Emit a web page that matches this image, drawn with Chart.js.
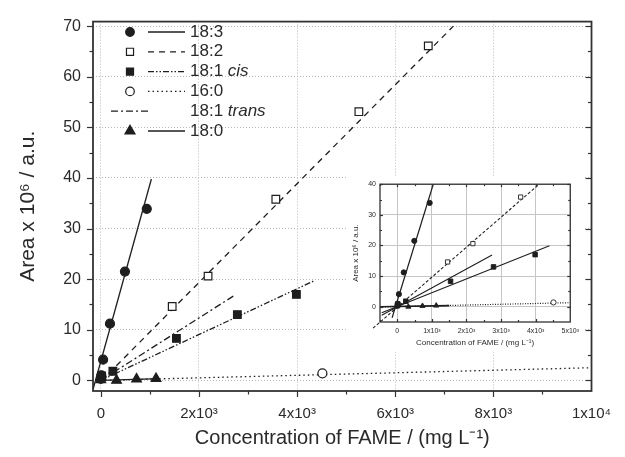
<!DOCTYPE html>
<html lang="en">
<head>
<meta charset="UTF-8">
<title>FAME calibration</title>
<script src="https://cdn.jsdelivr.net/npm/chart.js"></script>
<style>
  html, body { margin: 0; padding: 0; background: #fff; }
  #wrap { position: relative; width: 625px; height: 457px; }
  #main { position: absolute; left: 0; top: 0; }
  #inset { position: absolute; left: 347px; top: 176px; background: #fff; }
</style>
</head>
<body>
<div id="wrap">
  <canvas id="main" width="625" height="457"></canvas>
  <canvas id="inset" width="237" height="176"></canvas>
</div>
<script>
// measured points: concentration (mg/L) and area (x10^6 a.u.)
const x183 = [0, 10, 46, 186, 491, 936];
const y183 = [0.3, 1.0, 4.1, 11.2, 21.5, 33.9];
const x182 = [1454, 2185, 3566, 5259, 6673];
const y182 = [14.6, 20.6, 35.8, 53.1, 66.1];
const x181c = [15, 245, 1540, 2782, 3985];
const y181c = [0.9, 1.8, 8.3, 13.0, 17.0];
const x160 = [4515];
const y160 = [1.4];
const x180 = [0, 320, 728, 1125];
const y180 = [0.1, 0.0, 0.25, 0.35];

// fitted lines in the main plot (end points)
const fit183X = [-160, 1030],  fit183Y = [-1.8, 39.8];
const fit182X = [0, 7185],     fit182Y = [-0.2, 70.0];
const fit181cX = [0, 4330],    fit181cY = [0, 19.6];
const fit181tX = [0, 2723],    fit181tY = [0, 16.8];
const fit160X = [0, 10000],    fit160Y = [0, 2.5];
const fit180X = [0, 1200],     fit180Y = [0, 0.35];

// fitted lines in the inset (they run further into negative x)
const in183X = [-150, 1040],   in183Y = [-3.6, 40];
const in182X = [-700, 4100],   in182Y = [-7.0, 40];
const in181cX = [-450, 4400],  in181cY = [-2.0, 19.9];
const in181tX = [-450, 2740],  in181tY = [-2.8, 16.9];
const in160X = [-500, 5000],   in160Y = [-0.1, 1.3];
const in180X = [-500, 1500],   in180Y = [0, 0.35];

// axes
const xMajor = [0, 2000, 4000, 6000, 8000, 10000];
const xTickLabels = ['0', '2x10\u00B3', '4x10\u00B3', '6x10\u00B3', '8x10\u00B3', '1x10\u2074'];
const xMinor = [1000, 3000, 5000, 7000, 9000];
const yMajor = [0, 10, 20, 30, 40, 50, 60, 70];
const yMinor = [5, 15, 25, 35, 45, 55, 65];

const inXMajor = [0, 1000, 2000, 3000, 4000, 5000];
const inXTickLabels = ['0', '1x10\u00B3', '2x10\u00B3', '3x10\u00B3', '4x10\u00B3', '5x10\u00B3'];
const inXMinor = [-500, 500, 1500, 2500, 3500, 4500];
const inYMajor = [0, 10, 20, 30, 40];
const inYMinor = [-5, 5, 15, 25, 35];

const legendNames = ['18:3', '18:2', '18:1', '16:0', '18:1', '18:0'];
const legendItalic = ['', '', 'cis', '', 'trans', ''];

const ink = '#1e1e1e';
const FONT = "'Liberation Sans', Arial, sans-serif";
Chart.defaults.font.family = FONT;
Chart.defaults.color = '#2a2a2a';

const pts = (xs, ys) => xs.map((x, i) => ({ x: x, y: ys[i] }));

function markers(xs, ys, style, r, filled) {
  return {
    data: pts(xs, ys), showLine: false, pointStyle: style,
    pointRadius: r, pointHoverRadius: r,
    pointBackgroundColor: filled ? ink : '#fff',
    pointBorderColor: ink, pointBorderWidth: 1.2
  };
}
function fitLine(xs, ys, dash, w, clip) {
  const d = {
    data: pts(xs, ys), showLine: true, pointRadius: 0,
    borderColor: ink, borderWidth: w, borderDash: dash, fill: false
  };
  if (clip === false) d.clip = false;
  return d;
}

// dash patterns
const dashMain = { s183: [], s182: [6, 5], s181c: [6, 2, 1.5, 2, 1.5, 2], s160: [1.5, 3], s181t: [7, 3, 2, 3], s180: [] };

// frame + minor/major ticks drawn on the plot box
const framePlugin = {
  id: 'frame',
  afterDatasetsDraw(chart, args, o) {
    const { ctx, chartArea: a } = chart;
    const sx = chart.scales.x, sy = chart.scales.y;
    ctx.save();
    ctx.setLineDash([]);
    ctx.strokeStyle = o.color;
    ctx.lineWidth = 1.2;
    const tick = (side, vals, len) => {
      if (!o.sides[side]) return;
      const dir = o.sides[side] === 'out' ? 1 : -1;
      vals.forEach(v => {
        ctx.beginPath();
        if (side === 'bottom' || side === 'top') {
          const p = Math.round(sx.getPixelForValue(v)) + 0.5;
          if (p < a.left || p > a.right) return;
          const y0 = side === 'bottom' ? a.bottom : a.top;
          const s = side === 'bottom' ? dir : -dir;
          ctx.moveTo(p, y0); ctx.lineTo(p, y0 + s * len);
        } else {
          const p = Math.round(sy.getPixelForValue(v)) + 0.5;
          if (p < a.top || p > a.bottom) return;
          const x0 = side === 'left' ? a.left : a.right;
          const s = side === 'left' ? -dir : dir;
          ctx.moveTo(x0, p); ctx.lineTo(x0 + s * len, p);
        }
        ctx.stroke();
      });
    };
    ['bottom', 'top'].forEach(sd => { tick(sd, o.xMajor, o.major); tick(sd, o.xMinor, o.minor); });
    ['left', 'right'].forEach(sd => { tick(sd, o.yMajor, o.major); tick(sd, o.yMinor, o.minor); });
    ctx.lineWidth = o.width;
    ctx.strokeRect(a.left, a.top, a.right - a.left, a.bottom - a.top);
    ctx.restore();
  }
};

function drawSymbol(ctx, style, x, y, r, filled) {
  ctx.beginPath();
  if (style === 'circle') ctx.arc(x, y, r, 0, Math.PI * 2);
  else if (style === 'rect') { const h = r * Math.SQRT1_2; ctx.rect(x - h, y - h, 2 * h, 2 * h); }
  else if (style === 'triangle') {
    for (let k = 0; k < 3; k++) {
      const ang = -Math.PI / 2 + k * 2 * Math.PI / 3;
      const px = x + r * Math.cos(ang), py = y + r * Math.sin(ang);
      k ? ctx.lineTo(px, py) : ctx.moveTo(px, py);
    }
    ctx.closePath();
  }
  ctx.fillStyle = filled ? ink : '#fff';
  ctx.fill();
  ctx.lineWidth = 1.2;
  ctx.strokeStyle = ink;
  ctx.stroke();
}

// legend in the upper left corner
const fameLegend = {
  id: 'fameLegend',
  afterDraw(chart, args, o) {
    const ctx = chart.ctx;
    const syms = [['circle', true], ['rect', false], ['rect', true], ['circle', false], null, ['triangle', true]];
    const dashes = [dashMain.s183, dashMain.s182, dashMain.s181c, dashMain.s160, dashMain.s181t, dashMain.s180];
    const sizes = [4.3, 5, 5, 4.3, 0, 5.8];
    ctx.save();
    legendNames.forEach((name, i) => {
      const y = o.top + i * o.step;
      if (syms[i]) drawSymbol(ctx, syms[i][0], o.symX, y, sizes[i], syms[i][1]);
      ctx.beginPath();
      ctx.setLineDash(dashes[i]);
      ctx.lineWidth = 1.3;
      ctx.strokeStyle = ink;
      const x0 = syms[i] ? o.lineX0 : o.lineX0 - 37;
      const x1 = syms[i] ? o.lineX1 : o.lineX1 - 36;
      ctx.moveTo(x0, y); ctx.lineTo(x1, y);
      ctx.stroke();
      ctx.setLineDash([]);
      ctx.fillStyle = '#2a2a2a';
      ctx.textBaseline = 'middle';
      ctx.font = '17px ' + FONT;
      ctx.fillText(name, o.textX, y);
      if (legendItalic[i]) {
        const w = ctx.measureText(name + ' ').width;
        ctx.font = 'italic 17px ' + FONT;
        ctx.fillText(legendItalic[i], o.textX + w, y);
      }
    });
    ctx.restore();
  }
};

const mainLines = [
  fitLine(fit183X, fit183Y, dashMain.s183, 1.3),
  fitLine(fit182X, fit182Y, dashMain.s182, 1.3),
  fitLine(fit181cX, fit181cY, dashMain.s181c, 1.3),
  fitLine(fit181tX, fit181tY, dashMain.s181t, 1.3),
  fitLine(fit160X, fit160Y, dashMain.s160, 1.3),
  fitLine(fit180X, fit180Y, dashMain.s180, 1.3)
];
const mainMarks = [
  markers(x183, y183, 'circle', 4.5, true),
  markers(x182, y182, 'rect', 5.4, false),
  markers(x181c, y181c, 'rect', 5.4, true),
  markers(x160, y160, 'circle', 4.5, false),
  markers(x180, y180, 'triangle', 5.6, true)
];

new Chart(document.getElementById('main'), {
  type: 'scatter',
  data: { datasets: mainMarks.concat(mainLines) },
  options: {
    responsive: false, animation: false, events: [],
    layout: { padding: { top: 15, right: 22, left: 0, bottom: 0 } },
    plugins: {
      legend: { display: false }, tooltip: { enabled: false },
      frame: { color: '#333', width: 1.8, major: 6, minor: 3.5,
        sides: { bottom: 'out', left: 'out', right: 'in' },
        xMajor: xMajor, xMinor: xMinor, yMajor: yMajor, yMinor: yMinor },
      fameLegend: { top: 32, step: 19.8, symX: 130, lineX0: 148, lineX1: 185, textX: 190 }
    },
    scales: {
      x: {
        type: 'linear', min: -160, max: 10000,
        afterBuildTicks: s => { s.ticks = xMajor.map(v => ({ value: v })); },
        afterFit: s => { s.height = 66; },
        ticks: { font: { size: 15 }, padding: 14, maxRotation: 0, autoSkip: false,
          callback: (v, i) => xTickLabels[i] },
        grid: { color: '#b8b8b8', lineWidth: 1, drawTicks: false, borderDash: [1, 2] },
        border: { display: false, dash: [1, 2] },
        title: { display: true, text: 'Concentration of FAME / (mg L\u207B\u00B9)',
          font: { size: 20 }, padding: { top: 0, bottom: 7 } }
      },
      y: {
        type: 'linear', min: -2.1, max: 70.9,
        afterBuildTicks: s => { s.ticks = yMajor.map(v => ({ value: v })); },
        afterFit: s => { s.width = 93; },
        ticks: { font: { size: 16 }, padding: 12, autoSkip: false },
        grid: { color: '#b8b8b8', lineWidth: 1, drawTicks: false, borderDash: [1, 2] },
        border: { display: false, dash: [1, 2] },
        title: { display: true, text: 'Area x 10\u2076 / a.u.',
          font: { size: 21 }, padding: { top: 16, bottom: 0 } }
      }
    }
  },
  plugins: [framePlugin, fameLegend]
});

// inset: same data, zoomed in
const inLines = [
  fitLine(in183X, in183Y, [], 1.2),
  fitLine(in182X, in182Y, [3, 2], 1.1, false),
  fitLine(in181cX, in181cY, [], 1.1),
  fitLine(in181tX, in181tY, [], 1.1),
  fitLine(in160X, in160Y, [1, 1.5], 1.2),
  fitLine(in180X, in180Y, [], 1.6)
];
const inMarks = [
  markers(x183, y183, 'circle', 2.6, true),
  markers(x182, y182, 'rect', 3, false),
  markers(x181c, y181c, 'rect', 3.2, true),
  markers(x160, y160, 'circle', 2.6, false),
  markers(x180, y180, 'triangle', 3, true)
];
inMarks.forEach(d => { d.pointBorderWidth = 0.9; });

new Chart(document.getElementById('inset'), {
  type: 'scatter',
  data: { datasets: inMarks.concat(inLines) },
  options: {
    responsive: false, animation: false, events: [],
    layout: { padding: { top: 3, right: 13, left: 0, bottom: 0 } },
    plugins: {
      legend: { display: false }, tooltip: { enabled: false },
      frame: { color: '#333', width: 1.3, major: 3, minor: 2,
        sides: { bottom: 'in', top: 'in', left: 'in', right: 'in' },
        xMajor: inXMajor, xMinor: inXMinor, yMajor: inYMajor, yMinor: inYMinor }
    },
    scales: {
      x: {
        type: 'linear', min: -500, max: 5000,
        afterBuildTicks: s => { s.ticks = inXMajor.map(v => ({ value: v })); },
        afterFit: s => { s.height = 30; },
        ticks: { font: { size: 7 }, padding: 5, maxRotation: 0, autoSkip: false,
          callback: (v, i) => inXTickLabels[i] },
        grid: { color: '#c6c6c6', lineWidth: 1, drawTicks: false },
        border: { display: false },
        title: { display: true, text: 'Concentration of FAME / (mg L\u207B\u00B9)',
          font: { size: 8 }, padding: { top: 0, bottom: 4 } }
      },
      y: {
        type: 'linear', min: -5, max: 40,
        afterBuildTicks: s => { s.ticks = inYMajor.map(v => ({ value: v })); },
        afterFit: s => { s.width = 33; },
        ticks: { font: { size: 7 }, padding: 4, autoSkip: false },
        grid: { color: '#c6c6c6', lineWidth: 1, drawTicks: false },
        border: { display: false },
        title: { display: true, text: 'Area x 10\u2076 / a.u.',
          font: { size: 8 }, padding: { top: 4, bottom: 0 } }
      }
    }
  },
  plugins: [framePlugin]
});
</script>
</body>
</html>
